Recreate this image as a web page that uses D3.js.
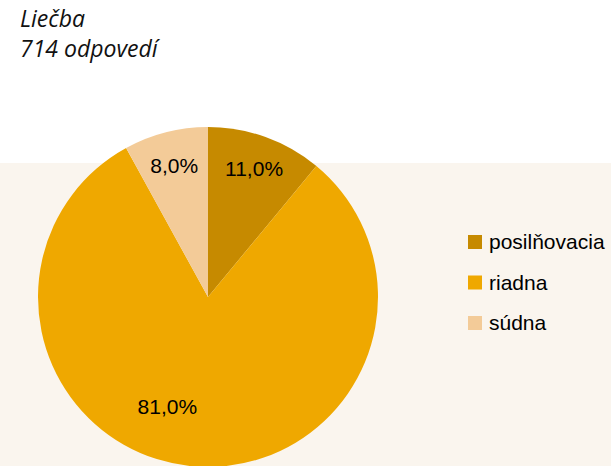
<!DOCTYPE html>
<html>
<head>
<meta charset="utf-8">
<script src="https://cdn.jsdelivr.net/npm/d3@7"></script>
<style>
  body { margin: 0; background: #ffffff; }
  svg { display: block; }
</style>
</head>
<body>
<div id="chart"></div>
<script>

// data

var titleLines = ["Liečba", "714 odpovedí"];
var categories = ["posilňovacia", "riadna", "súdna"];
var values = [11.0, 81.0, 8.0];
var colors = ["#C68A00", "#EFA800", "#F3CB98"];

// initial settings

var svgWidth = 611;
var svgHeight = 466;
var bandTop = 163;
var cx = 208, cy = 297, radius = 170;

var svg = d3.select("#chart")
  .append("svg")
  .attr("width", svgWidth)
  .attr("height", svgHeight);

// beige band behind the plot

svg.append("rect")
  .attr("x", 0)
  .attr("y", bandTop)
  .attr("width", svgWidth)
  .attr("height", svgHeight - bandTop)
  .attr("fill", "#FAF5EE");

// title

svg.append("g")
  .selectAll("text")
  .data(titleLines)
  .enter()
  .append("text")
  .attr("x", 20)
  .attr("y", (d, i) => 27 + i * 30)
  .attr("font-family", "'Open Sans', sans-serif")
  .attr("font-style", "italic")
  .attr("font-size", 23)
  .attr("fill", "#111")
  .text(d => d);

// pie

var table = categories.map((c, i) => ({ name: c, value: values[i] }));

var color = d3.scaleOrdinal()
  .domain(categories)
  .range(colors);

var pie = d3.pie()
  .sort(null)
  .value(d => d.value);

var arc = d3.arc()
  .innerRadius(0)
  .outerRadius(radius);

var slices = pie(table);

var chart = svg.append("g")
  .attr("transform", `translate(${cx}, ${cy})`);

chart.selectAll("path")
  .data(slices)
  .enter()
  .append("path")
  .attr("d", arc)
  .attr("fill", d => color(d.data.name));

// labels: small slices near the rim, big slice lower inside

function labelPos(d) {
  var a = (d.startAngle + d.endAngle) / 2;
  var k = 0.8;
  if (d.endAngle - d.startAngle > Math.PI) {
    a += 0.26;
    k = 0.69;
  }
  return [Math.sin(a) * radius * k, -Math.cos(a) * radius * k];
}

chart.selectAll("text.label")
  .data(slices)
  .enter()
  .append("text")
  .attr("class", "label")
  .attr("x", d => labelPos(d)[0])
  .attr("y", d => labelPos(d)[1])
  .attr("dy", "0.35em")
  .attr("text-anchor", "middle")
  .attr("font-family", "'Liberation Sans', Arial, sans-serif")
  .attr("font-size", 21)
  .attr("fill", "#000")
  .text(d => d3.format(".1f")(d.data.value).replace(".", ",") + "%");

// legend

var legend = svg.append("g")
  .attr("transform", "translate(468, 242)");

var rows = legend.selectAll("g")
  .data(categories)
  .enter()
  .append("g")
  .attr("transform", (d, i) => `translate(0, ${i * 40.5})`);

rows.append("rect")
  .attr("x", 0)
  .attr("y", -7)
  .attr("width", 14)
  .attr("height", 14)
  .attr("fill", d => color(d));

rows.append("text")
  .attr("x", 21)
  .attr("y", 0)
  .attr("dy", "0.35em")
  .attr("font-family", "'Liberation Sans', Arial, sans-serif")
  .attr("font-size", 21)
  .attr("fill", "#000")
  .text(d => d);

</script>
</body>
</html>
